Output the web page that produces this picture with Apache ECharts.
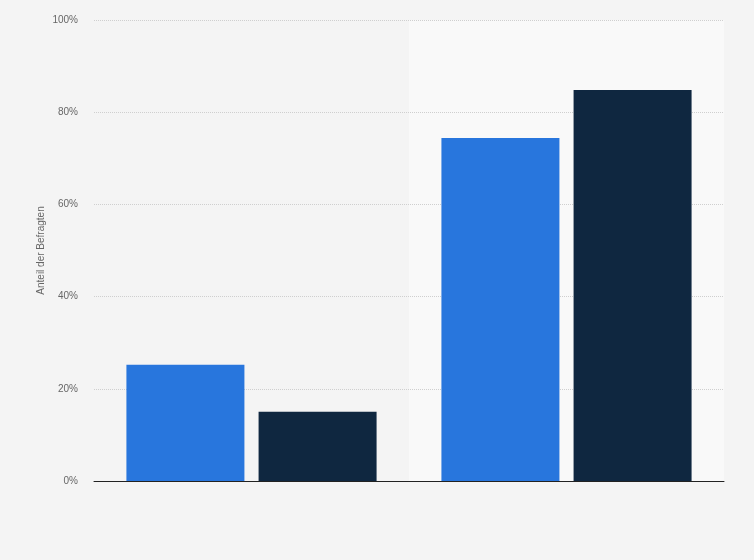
<!DOCTYPE html>
<html>
<head>
<meta charset="utf-8">
<script src="https://cdn.jsdelivr.net/npm/echarts@6/dist/echarts.min.js"></script>
<style>
html, body { margin: 0; padding: 0; background: #f4f4f4; }
#myChart { width: 754px; height: 560px; }
</style>
</head>
<body>
<div id="myChart"></div>
<script>
// categories have no visible labels in the picture
var categories = ['', ' '];
var seriesA = [25.2, 74.4];
var seriesB = [15.0, 84.8];
var yTicks = [0, 20, 40, 60, 80, 100];

var myChart = echarts.init(document.getElementById("myChart"));
var option = {
    backgroundColor: '#f4f4f4',
    animation: false,
    grid: {
        top: 20,
        left: 94,
        right: 30,
        bottom: 79
    },
    xAxis: {
        type: 'category',
        data: categories,
        z: 0,
        axisLine: { lineStyle: { color: '#222', width: 1 } },
        axisTick: { show: false },
        axisLabel: { show: false },
        splitArea: {
            show: true,
            areaStyle: { color: ['rgba(0,0,0,0)', '#f9f9f9'] }
        }
    },
    yAxis: {
        type: 'value',
        z: 1,
        min: yTicks[0],
        max: yTicks[yTicks.length - 1],
        interval: 20,
        name: 'Anteil der Befragten',
        nameLocation: 'middle',
        nameMoveOverlap: false,
        nameGap: 48,
        nameTextStyle: { color: '#666', fontSize: 10, fontFamily: 'Liberation Sans' },
        axisLine: { show: false },
        axisTick: { show: false },
        axisLabel: {
            color: '#666',
            fontSize: 10,
            fontFamily: 'Liberation Sans',
            margin: 16,
            formatter: '{value}%'
        },
        splitLine: {
            showMinLine: false,
            lineStyle: { color: '#cfcfcf', type: 'dotted' }
        }
    },
    series: [
        {
            name: 'A',
            type: 'bar',
            data: seriesA,
            barWidth: 118,
            barGap: '12%',
            itemStyle: { color: '#2876dd' }
        },
        {
            name: 'B',
            type: 'bar',
            data: seriesB,
            barWidth: 118,
            itemStyle: { color: '#0f2740' }
        }
    ]
};
myChart.setOption(option);
</script>
</body>
</html>
